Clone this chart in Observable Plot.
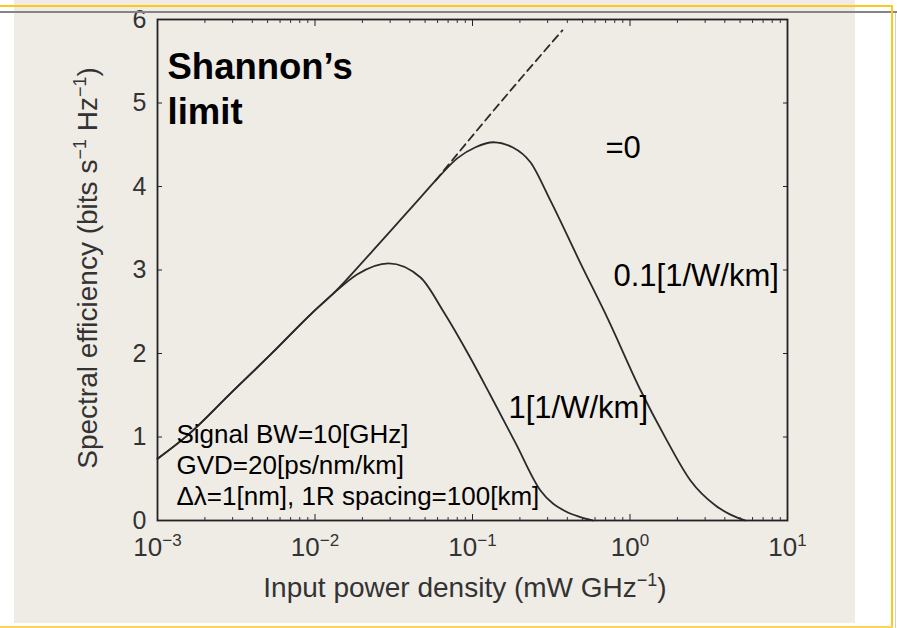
<!DOCTYPE html>
<html><head><meta charset="utf-8">
<script src="https://cdn.jsdelivr.net/npm/d3@7"></script>
<script src="https://cdn.jsdelivr.net/npm/@observablehq/plot@0.6"></script>
<style>
html,body{margin:0;padding:0;background:#fff;}
#wrap{position:relative;width:897px;height:628px;overflow:hidden;font-family:'Liberation Sans',Arial,sans-serif;}
.deco{position:absolute;}
#chart{position:absolute;left:0;top:0;}
</style></head><body>
<div id="wrap">
<div class="deco" style="left:14px;top:0;width:841px;height:623px;background:#efece6"></div>
<div id="chart"></div>
<div class="deco" style="left:0;top:5px;width:893px;height:2px;background:#ffc81e"></div>
<div class="deco" style="left:0;top:11px;width:897px;height:2px;background:#858585"></div>
<div class="deco" style="left:891px;top:5px;width:2px;height:623px;background:#ffc81e"></div>
<div class="deco" style="left:0;top:626px;width:893px;height:2px;background:#ffd25a"></div>
<div class="deco" style="left:895px;top:13px;width:1px;height:615px;background:#cfcfcf"></div>
</div>
<script>
// ---- data ----
const xTicks = [1e-3, 1e-2, 1e-1, 1, 10];
const xTickLabels = ["10^−3", "10^−2", "10^−1", "10^0", "10^1"];
const yTicks = [0, 1, 2, 3, 4, 5, 6];
const yTickLabels = ["0", "1", "2", "3", "4", "5", "6"];

// gamma = 1 [1/W/km]
const gamma1Power = [0.001, 0.00155, 0.0029, 0.00537, 0.00964, 0.0131, 0.0186, 0.0293, 0.0468, 0.0655, 0.0955, 0.130, 0.1875, 0.270, 0.389, 0.485, 0.578];
const gamma1SE    = [0.74,  1.02,    1.52,   2.01,    2.49,    2.72,   2.95,   3.08,   2.91,   2.50,   1.97,   1.50,  0.93,   0.36,  0.11,  0.04,  0];

// gamma = 0.1 [1/W/km]
const gamma01Power = [0.001, 0.00155, 0.0029, 0.00537, 0.00964, 0.0131, 0.0225, 0.0468, 0.0582, 0.0803, 0.1045, 0.1358, 0.1795, 0.2333, 0.3126, 0.4853, 0.7295, 1.167, 1.68, 2.42, 3.49, 4.345, 5.41];
const gamma01SE    = [0.74,  1.02,    1.52,   2.01,    2.49,    2.72,   3.20,   3.87,   4.07,   4.34,   4.47,   4.53,   4.47,   4.29,   3.83,   3.08,   2.40,   1.56,  0.99, 0.48, 0.18, 0.07,  0];

// Shannon's limit (gamma = 0), dashed continuation
const shannonPower = [0.0582, 0.1076, 0.2018, 0.3724];
const shannonSE    = [4.07,   4.68,   5.29,   5.87];

const annotationTexts = ["Shannon’s", "limit", "=0", "0.1[1/W/km]", "1[1/W/km]",
  "Signal BW=10[GHz]", "GVD=20[ps/nm/km]", "Δλ=1[nm], 1R spacing=100[km]"];

// ---- build ----
const toRows = (P, S) => P.map((p, i) => ({p, se: S[i]}));
const g1 = toRows(gamma1Power, gamma1SE);
const g01 = toRows(gamma01Power, gamma01SE);
const sh = toRows(shannonPower, shannonSE);
const xLab = new Map(xTicks.map((t, i) => [t, xTickLabels[i]]));
const yLab = new Map(yTicks.map((t, i) => [t, yTickLabels[i]]));
const xMinor = d3.range(-3, 1).flatMap(e => d3.range(2, 10).map(m => +(m * 10 ** e).toPrecision(3)));

const ink = "#2a2a2a";
const ann = (t, dx, dy, fontSize, fontWeight = "normal") =>
  Plot.text([t], {frameAnchor: "top-left", dx, dy, textAnchor: "start", lineAnchor: "bottom",
    fontSize, fontWeight, fill: "#000"});

const svg = Plot.plot({
  width: 897, height: 628,
  marginLeft: 157, marginRight: 110, marginTop: 19, marginBottom: 108,
  style: {background: "transparent", fontFamily: "'Liberation Sans', Arial, sans-serif", overflow: "visible"},
  x: {type: "log", domain: [1e-3, 10]},
  y: {domain: [0, 6]},
  marks: [
    Plot.line(g1, {x: "p", y: "se", stroke: ink, strokeWidth: 1.8, curve: "monotone-x"}),
    Plot.line(g01, {x: "p", y: "se", stroke: ink, strokeWidth: 1.8, curve: "monotone-x"}),
    Plot.line(sh, {x: "p", y: "se", stroke: ink, strokeWidth: 1.8, strokeDasharray: "8,5", curve: "monotone-x"}),
    Plot.frame({stroke: "#222", strokeWidth: 1.8}),
    // inward ticks (shifted inside the frame with insets)
    Plot.axisY(yTicks, {anchor: "left", tickSize: 5, insetLeft: 5, fill: "none", stroke: "#222", label: null}),
    Plot.axisY(yTicks, {anchor: "right", tickSize: 5, insetRight: 5, fill: "none", stroke: "#222", label: null}),
    Plot.axisX(xTicks, {anchor: "bottom", tickSize: 6, insetBottom: 6, fill: "none", stroke: "#222", label: null}),
    Plot.axisX(xMinor, {anchor: "bottom", tickSize: 3, insetBottom: 3, fill: "none", stroke: "#333", label: null}),
    Plot.axisX(xTicks, {anchor: "top", tickSize: 6, insetTop: 6, fill: "none", stroke: "#222", label: null}),
    Plot.axisX(xMinor, {anchor: "top", tickSize: 3, insetTop: 3, fill: "none", stroke: "#333", label: null}),
    Plot.axisY(yTicks, {anchor: "left", tickSize: 0, tickPadding: 11, tickFormat: d => yLab.get(d),
      fontSize: 25, fill: "#333", label: null}),
    Plot.axisX(xTicks, {anchor: "bottom", tickSize: 0, tickPadding: 17, tickFormat: d => xLab.get(d),
      fontSize: 26, fill: "#333", label: null}),
    ann(annotationTexts[0], 10, 59, 36.5, "bold"),
    ann(annotationTexts[1], 10, 104, 36.5, "bold"),
    ann(annotationTexts[2], 448, 138, 31),
    ann(annotationTexts[3], 456, 266, 31),
    ann(annotationTexts[4], 351, 398, 31),
    ann(annotationTexts[5], 19, 423, 26),
    ann(annotationTexts[6], 19, 454, 26),
    ann(annotationTexts[7], 19, 485, 26)
  ]
});

// superscripts in x tick labels
const NS = "http://www.w3.org/2000/svg";
svg.querySelectorAll('g[aria-label="x-axis tick label"] text').forEach(t => {
  const [b, e] = t.textContent.split("^");
  t.textContent = "";
  const a = document.createElementNS(NS, "tspan"); a.textContent = b; t.appendChild(a);
  const s = document.createElementNS(NS, "tspan");
  s.setAttribute("font-size", "17"); s.setAttribute("dy", "-10"); s.textContent = e; t.appendChild(s);
});

// axis titles with superscripts
const S = d3.select(svg);
const xt = S.append("text").attr("x", 465).attr("y", 597).attr("text-anchor", "middle")
  .attr("font-size", 28).attr("fill", "#333");
xt.append("tspan").text("Input power density (mW GHz");
xt.append("tspan").attr("font-size", 18).attr("dy", -11).text("−1");
xt.append("tspan").attr("dy", 11).text(")");

const yt = S.append("text").attr("transform", "translate(97,268) rotate(-90)").attr("text-anchor", "middle")
  .attr("font-size", 28).attr("fill", "#333");
yt.append("tspan").text("Spectral efficiency (bits s");
yt.append("tspan").attr("font-size", 18).attr("dy", -11).text("−1");
yt.append("tspan").attr("dy", 11).text(" Hz");
yt.append("tspan").attr("font-size", 18).attr("dy", -11).text("−1");
yt.append("tspan").attr("dy", 11).text(")");

document.getElementById("chart").appendChild(svg);
</script>
</body></html>
